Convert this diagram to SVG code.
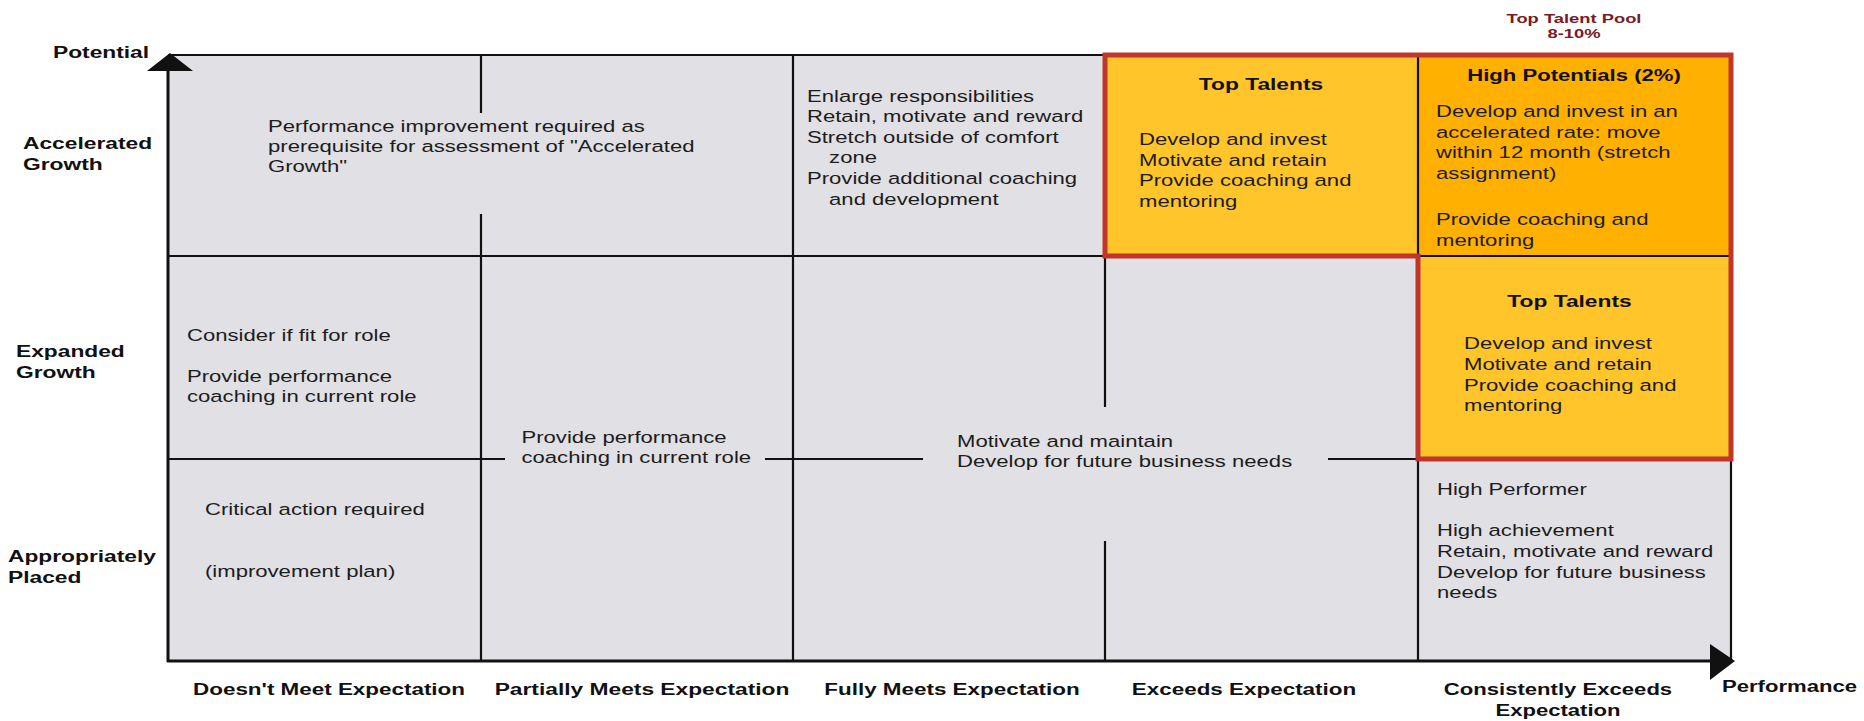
<svg xmlns="http://www.w3.org/2000/svg" width="1864" height="721" viewBox="0 0 1864 721">
<style>
text{font-family:"Liberation Sans",Arial,sans-serif;}
.t{font-size:17px;fill:#1c1c1c;}
.b{font-size:17px;font-weight:bold;fill:#111;}
.bm{font-size:17px;font-weight:bold;fill:#111;text-anchor:middle;}
.pool{font-size:13.5px;font-weight:bold;fill:#7a1a24;text-anchor:middle;}
.g{stroke:#111;stroke-width:2.2;fill:none;}
.ax{stroke:#111;stroke-width:3;fill:none;}
</style>
<rect width="1864" height="721" fill="#ffffff"/>
<g id="grid-bg"><rect x="168" y="55" width="1563" height="606" fill="#e1e0e4"/></g>
<g id="node-top-talents-1">
<rect x="1105" y="55" width="313" height="201" fill="#ffc52b"/>
<text class="bm" transform="matrix(1.34 0 0 1 1261 89.5)">Top Talents</text>
<text class="t" transform="matrix(1.3 0 0 1 1139 145)"><tspan x="0" y="0">Develop and invest</tspan><tspan x="0" y="20.7">Motivate and retain</tspan><tspan x="0" y="41.4">Provide coaching and</tspan><tspan x="0" y="62">mentoring</tspan></text>
</g>
<g id="node-high-potentials">
<rect x="1418" y="55" width="313" height="201" fill="#ffb000"/>
<text class="bm" transform="matrix(1.3 0 0 1 1574 81)">High Potentials (2%)</text>
<text class="t" transform="matrix(1.3 0 0 1 1436 117.3)"><tspan x="0" y="0">Develop and invest in an</tspan><tspan x="0" y="20.7">accelerated rate: move</tspan><tspan x="0" y="41.2">within 12 month (stretch</tspan><tspan x="0" y="61.7">assignment)</tspan><tspan x="0" y="108.2">Provide coaching and</tspan><tspan x="0" y="128.7">mentoring</tspan></text>
</g>
<g id="node-top-talents-2">
<rect x="1418" y="256" width="313" height="203" fill="#ffc52b"/>
<text class="bm" transform="matrix(1.34 0 0 1 1569.5 307)">Top Talents</text>
<text class="t" transform="matrix(1.3 0 0 1 1464 349.3)"><tspan x="0" y="0">Develop and invest</tspan><tspan x="0" y="20.7">Motivate and retain</tspan><tspan x="0" y="41.4">Provide coaching and</tspan><tspan x="0" y="62">mentoring</tspan></text>
</g>
<g id="node-perf-improvement">
<text class="t" transform="matrix(1.3 0 0 1 268 131.5)"><tspan x="0" y="0">Performance improvement required as</tspan><tspan x="0" y="20.3">prerequisite for assessment of "Accelerated</tspan><tspan x="0" y="40.5">Growth"</tspan></text>
</g>
<g id="node-enlarge">
<text class="t" transform="matrix(1.3 0 0 1 807 101.5)"><tspan x="0" y="0">Enlarge responsibilities</tspan><tspan x="0" y="20.6">Retain, motivate and reward</tspan><tspan x="0" y="41.3">Stretch outside of comfort</tspan><tspan x="17" y="62">zone</tspan><tspan x="0" y="82.6">Provide additional coaching</tspan><tspan x="17" y="103.2">and development</tspan></text>
</g>
<g id="node-consider-fit">
<text class="t" transform="matrix(1.3 0 0 1 187 340.5)"><tspan x="0" y="0">Consider if fit for role</tspan><tspan x="0" y="41.2">Provide performance</tspan><tspan x="0" y="61.8">coaching in current role</tspan></text>
</g>
<g id="node-perf-coaching">
<text class="t" transform="matrix(1.3 0 0 1 521.5 442.7)"><tspan x="0" y="0">Provide performance</tspan><tspan x="0" y="20.6">coaching in current role</tspan></text>
</g>
<g id="node-motivate-maintain">
<text class="t" transform="matrix(1.3 0 0 1 957 447)"><tspan x="0" y="0">Motivate and maintain</tspan><tspan x="0" y="20.3">Develop for future business needs</tspan></text>
</g>
<g id="node-critical-action">
<text class="t" transform="matrix(1.3 0 0 1 205 515)"><tspan x="0" y="0">Critical action required</tspan><tspan x="0" y="62">(improvement plan)</tspan></text>
</g>
<g id="node-high-performer">
<text class="t" transform="matrix(1.3 0 0 1 1437 495)"><tspan x="0" y="0">High Performer</tspan><tspan x="0" y="41.2">High achievement</tspan><tspan x="0" y="61.9">Retain, motivate and reward</tspan><tspan x="0" y="82.6">Develop for future business</tspan><tspan x="0" y="103.3">needs</tspan></text>
</g>
<g id="grid-lines">
<line class="g" x1="168" y1="55" x2="1105" y2="55"/>
<line class="g" x1="481" y1="55" x2="481" y2="113"/>
<line class="g" x1="481" y1="214" x2="481" y2="661"/>
<line class="g" x1="793" y1="55" x2="793" y2="661"/>
<line class="g" x1="1105" y1="256" x2="1105" y2="407"/>
<line class="g" x1="1105" y1="541" x2="1105" y2="661"/>
<line class="g" x1="1418" y1="459" x2="1418" y2="661"/>
<line class="g" x1="1731" y1="459" x2="1731" y2="661"/>
<line class="g" x1="168" y1="256" x2="1105" y2="256"/>
<line class="g" x1="168" y1="459" x2="505" y2="459"/>
<line class="g" x1="765" y1="459" x2="923" y2="459"/>
<line class="g" x1="1328" y1="459" x2="1418" y2="459"/>
<line class="g" x1="1418" y1="55" x2="1418" y2="256"/>
<line class="g" x1="1418" y1="256" x2="1731" y2="256"/>
</g>
<g id="top-talent-border">
<polygon points="1105,55 1731,55 1731,459 1418,459 1418,256 1105,256" fill="none" stroke="#c0362a" stroke-width="5"/>
</g>
<g id="connectors">
<line class="ax" x1="168" y1="70" x2="168" y2="662"/>
<line class="ax" x1="167" y1="661" x2="1712" y2="661"/>
<polygon points="147,71 170,53 193,71" fill="#111"/>
<polygon points="1710,644 1735,661 1710,680" fill="#111"/>
</g>
<g id="labels">
<text class="b" transform="matrix(1.34 0 0 1 53 58)">Potential</text>
<text class="b" transform="matrix(1.34 0 0 1 23 149)"><tspan x="0" y="0">Accelerated</tspan><tspan x="0" y="20.7">Growth</tspan></text>
<text class="b" transform="matrix(1.34 0 0 1 16 357)"><tspan x="0" y="0">Expanded</tspan><tspan x="0" y="20.7">Growth</tspan></text>
<text class="b" transform="matrix(1.34 0 0 1 8 562)"><tspan x="0" y="0">Appropriately</tspan><tspan x="0" y="20.7">Placed</tspan></text>
<text class="bm" transform="matrix(1.32 0 0 1 329 695)">Doesn't Meet Expectation</text>
<text class="bm" transform="matrix(1.34 0 0 1 642 695)">Partially Meets Expectation</text>
<text class="bm" transform="matrix(1.32 0 0 1 952 695)">Fully Meets Expectation</text>
<text class="bm" transform="matrix(1.32 0 0 1 1244 695)">Exceeds Expectation</text>
<text class="bm" transform="matrix(1.3 0 0 1 1558 695)"><tspan x="0" y="0">Consistently Exceeds</tspan><tspan x="0" y="21.5">Expectation</tspan></text>
<text class="b" transform="matrix(1.3 0 0 1 1722 692)">Performance</text>
<text class="pool" transform="matrix(1.36 0 0 1 1574 22.7)"><tspan x="0" y="0">Top Talent Pool</tspan><tspan x="0" y="15">8-10%</tspan></text>
</g>
</svg>
